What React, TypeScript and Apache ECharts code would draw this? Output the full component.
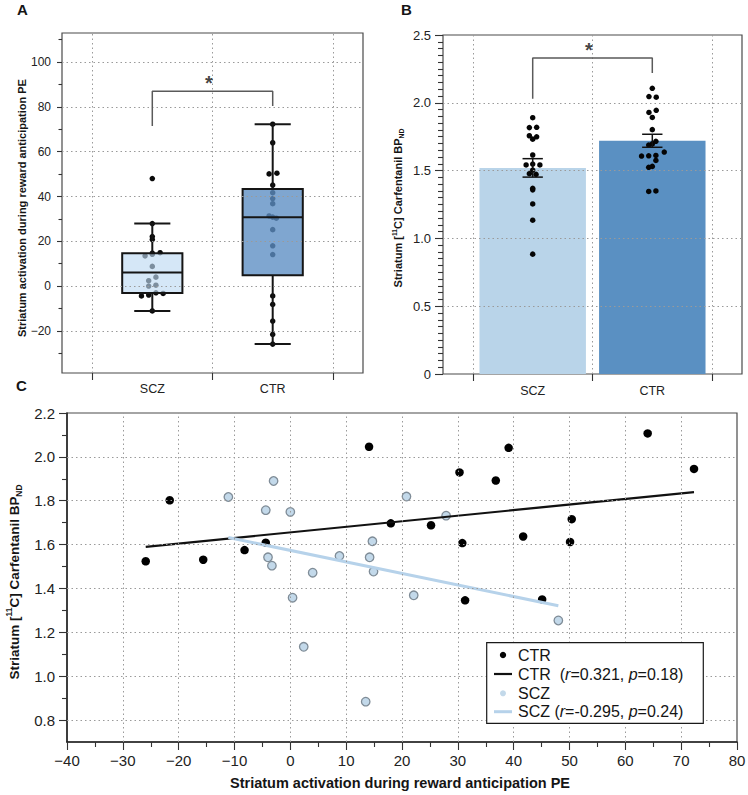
import React, { useEffect, useRef } from 'react';
import * as echarts from 'echarts';

const categories = ['SCZ', 'CTR'];

// Per-subject values (also used for A and B)
const sczActivation = [-11.1, -3.0, -4.4, 0.0, -4.0, -3.3, 4.0, 0.4, 2.4, 8.8, 14.7, 14.2, 14.9, 13.5, 20.8, 27.9, 22.1, 48.0];
const sczBP = [1.817, 1.89, 1.757, 1.749, 1.542, 1.504, 1.472, 1.358, 1.134, 1.548, 1.615, 1.542, 1.477, 0.884, 1.819, 1.732, 1.369, 1.254];
const ctrActivation = [-25.9, -21.6, -15.6, -8.2, -4.4, 14.1, 39.1, 30.3, 36.8, 64.0, 72.3, 18.0, 25.2, 50.4, 41.7, 30.8, 50.1, 31.3, 45.1];
const ctrBP = [1.524, 1.802, 1.531, 1.575, 1.609, 2.046, 2.041, 1.929, 1.892, 2.107, 1.945, 1.697, 1.688, 1.716, 1.637, 1.607, 1.612, 1.346, 1.35];

// Horizontal jitter of the dots in panels A and B (in group units)
const sczJitterA = [0, 0.03, -0.09, -0.03, -0.03, 0.09, 0.03, 0.03, -0.03, 0, 0, 0, 0.065, -0.06, 0, 0, 0, 0];
const ctrJitterA = [0, 0, 0, 0, 0, 0, 0, 0.03, 0, 0, 0, 0, 0, 0.035, 0, 0, -0.03, -0.03, 0];
const sczJitterB = [-0.028, 0, -0.028, 0.033, -0.055, 0, 0.028, 0, 0, 0, 0, 0.06, -0.028, 0, 0.033, 0, 0, 0];
const ctrJitterB = [-0.03, 0, 0, 0.03, -0.03, -0.028, 0.033, -0.028, 0, 0, 0.033, 0, -0.03, 0.03, 0.1, -0.09, 0.03, -0.03, 0.03];

// Panel A box statistics: [min, Q1, median, Q3, max]
const sczBox = [-11.1, -3.1, 6.1, 14.7, 27.9];
const ctrBox = [-25.9, 4.8, 30.7, 43.3, 72.3];

// Panel B means and SEM
const barMeans = [1.52, 1.72];
const barSEM = [0.068, 0.048];

// Significance brackets
const bracketA = [[1, 71.5], [1, 87], [2, 87], [2, 80.4]];
const starA = [1.47, 92.7];
const bracketB = [[1, 2.03], [1, 2.33], [2, 2.33], [2, 2.22]];
const starB = [1.47, 2.42];

// Panel C regression lines (end points)
const ctrFit = [[-25.9, 1.59], [72.3, 1.839]];
const sczFit = [[-11.1, 1.632], [48.0, 1.321]];

// Ticks
const groupTicks = [0.5, 1.5, 2.5];
const groupCenters = [1, 2];
const aYMajor = [-20, 0, 20, 40, 60, 80, 100];
const aYMinor = [-30, -10, 10, 30, 50, 70, 90, 110];
const bYMajor = [0, 0.5, 1.0, 1.5, 2.0, 2.5];
const bYMinor = [0.05, 0.1, 0.15, 0.2, 0.25, 0.3, 0.35, 0.4, 0.45, 0.55, 0.6, 0.65, 0.7, 0.75, 0.8, 0.85, 0.9, 0.95, 1.05, 1.1, 1.15, 1.2, 1.25, 1.3, 1.35, 1.4, 1.45, 1.55, 1.6, 1.65, 1.7, 1.75, 1.8, 1.85, 1.9, 1.95, 2.05, 2.1, 2.15, 2.2, 2.25, 2.3, 2.35, 2.4, 2.45];
const bYGrid = [0.5, 1.0, 1.5, 2.0];
const cYMajor = [0.8, 1.0, 1.2, 1.4, 1.6, 1.8, 2.0, 2.2];
const cYMinor = [0.9, 1.1, 1.3, 1.5, 1.7, 1.9, 2.1];
const cYGrid = [0.8, 1.0, 1.2, 1.4, 1.6, 1.8, 2.0];
const cXMajor = [-40, -30, -20, -10, 0, 10, 20, 30, 40, 50, 60, 70, 80];
const cXMinor = [-35, -25, -15, -5, 5, 15, 25, 35, 45, 55, 65, 75];
const cXGrid = [-30, -20, -10, 0, 10, 20, 30, 40, 50, 60, 70];

const FONT = '"Liberation Sans", Arial, Helvetica, sans-serif';
const minus = (v: number) => String(v).replace('-', '\u2212');

function axis(o: any) {
  return {
    type: 'value',
    gridIndex: o.gridIndex,
    min: o.min,
    max: o.max,
    position: o.position,
    axisLine: { show: !!o.line, onZero: false, lineStyle: { color: '#222', width: 1.5 } },
    axisTick: { show: true, inside: false, customValues: o.ticks, length: o.tickLen, lineStyle: { color: '#333', width: 1.1 } },
    axisLabel: o.labels
      ? {
          show: true,
          customValues: o.labels,
          formatter: o.fmt,
          fontSize: o.fontSize,
          fontFamily: FONT,
          color: '#222',
          margin: o.margin,
          showMinLabel: true,
          showMaxLabel: true,
          hideOverlap: false,
        }
      : { show: false },
    splitLine: { show: false },
    minorTick: { show: false },
    minorSplitLine: { show: false },
  };
}

function gridLines(xi: number, yi: number, xs: number[], ys: number[]) {
  return {
    type: 'scatter',
    xAxisIndex: xi,
    yAxisIndex: yi,
    data: [],
    z: 1,
    silent: true,
    markLine: {
      silent: true,
      symbol: ['none', 'none'],
      label: { show: false },
      emphasis: { disabled: true },
      lineStyle: { type: [1.5, 3], color: '#9a9a9a', width: 1 },
      data: [...xs.map((v) => ({ xAxis: v })), ...ys.map((v) => ({ yAxis: v }))],
    },
  };
}

function star(xi: number, yi: number, pos: number[]) {
  return {
    type: 'scatter',
    xAxisIndex: xi,
    yAxisIndex: yi,
    data: [pos],
    symbolSize: 1,
    itemStyle: { color: 'rgba(0,0,0,0)' },
    z: 5,
    silent: true,
    label: {
      show: true,
      position: 'inside',
      formatter: '*',
      fontSize: 20,
      fontWeight: 'bold',
      fontFamily: FONT,
      color: '#111',
      offset: [0, 4.5],
    },
  };
}

function bracket(xi: number, yi: number, pts: number[][]) {
  return {
    type: 'line',
    xAxisIndex: xi,
    yAxisIndex: yi,
    data: pts,
    symbol: 'none',
    z: 5,
    silent: true,
    lineStyle: { color: '#5a5a5a', width: 1.5 },
  };
}

function dots(xi: number, yi: number, data: number[][], size: number, style: any, z: number) {
  return {
    type: 'scatter',
    xAxisIndex: xi,
    yAxisIndex: yi,
    data,
    symbolSize: size,
    itemStyle: { opacity: 1, ...style },
    z,
  };
}

function buildOption(): any {
  const boxFill = ['rgba(190,218,242,0.64)', 'rgba(92,142,196,0.79)'];
  const barFill = ['#b9d4e9', '#5a90c2'];

  const series: any[] = [
    // ---------- Panel A ----------
    gridLines(0, 0, groupTicks, aYMajor),
    dots(0, 0, sczActivation.map((v, i) => [1 + sczJitterA[i], v]), 5.5, { color: '#0a0a0a' }, 2),
    dots(0, 0, ctrActivation.map((v, i) => [2 + ctrJitterA[i], v]), 5.5, { color: '#0a0a0a' }, 2),
    {
      type: 'custom',
      xAxisIndex: 0,
      yAxisIndex: 0,
      z: 3,
      clip: false,
      data: [[1, ...sczBox], [2, ...ctrBox]],
      renderItem: (params: any, api: any) => {
        const x = api.value(0);
        const mn = api.value(1), q1 = api.value(2), md = api.value(3), q3 = api.value(4), mx = api.value(5);
        const half = 0.25, cap = 0.15;
        const c = (xx: number, yy: number) => api.coord([xx, yy]);
        const stroke = { stroke: '#151515', lineWidth: 2 };
        const tl = c(x - half, q3), br = c(x + half, q1);
        const pMax = c(x, mx), pQ3 = c(x, q3), pQ1 = c(x, q1), pMin = c(x, mn);
        const capL = c(x - cap, 0)[0], capR = c(x + cap, 0)[0];
        const medL = c(x - half, md), medR = c(x + half, md);
        return {
          type: 'group',
          children: [
            { type: 'line', shape: { x1: pMax[0], y1: pMax[1], x2: pQ3[0], y2: pQ3[1] }, style: stroke },
            { type: 'line', shape: { x1: pMin[0], y1: pMin[1], x2: pQ1[0], y2: pQ1[1] }, style: stroke },
            { type: 'line', shape: { x1: capL, y1: pMax[1], x2: capR, y2: pMax[1] }, style: stroke },
            { type: 'line', shape: { x1: capL, y1: pMin[1], x2: capR, y2: pMin[1] }, style: stroke },
            {
              type: 'rect',
              shape: { x: tl[0], y: tl[1], width: br[0] - tl[0], height: br[1] - tl[1] },
              style: { fill: boxFill[params.dataIndex], stroke: '#151515', lineWidth: 2 },
            },
            { type: 'line', shape: { x1: medL[0], y1: medL[1], x2: medR[0], y2: medR[1] }, style: stroke },
          ],
        };
      },
    },
    bracket(0, 0, bracketA),
    star(0, 0, starA),

    // ---------- Panel B ----------
    gridLines(1, 2, groupTicks, bYGrid),
    {
      type: 'custom',
      xAxisIndex: 1,
      yAxisIndex: 2,
      z: 2,
      clip: false,
      data: barMeans.map((m, i) => [i + 1, m]),
      renderItem: (params: any, api: any) => {
        const x = api.value(0), v = api.value(1);
        const tl = api.coord([x - 0.445, v]);
        const br = api.coord([x + 0.445, 0]);
        return {
          type: 'rect',
          shape: { x: tl[0], y: tl[1], width: br[0] - tl[0], height: br[1] - tl[1] },
          style: { fill: barFill[params.dataIndex] },
        };
      },
    },
    dots(1, 2, sczBP.map((v, i) => [1 + sczJitterB[i], v]), 5.5, { color: '#050505' }, 3),
    dots(1, 2, ctrBP.map((v, i) => [2 + ctrJitterB[i], v]), 5.5, { color: '#050505' }, 3),
    {
      type: 'custom',
      xAxisIndex: 1,
      yAxisIndex: 2,
      z: 4,
      clip: false,
      data: barMeans.map((m, i) => [i + 1, m, barSEM[i]]),
      renderItem: (params: any, api: any) => {
        const x = api.value(0), m = api.value(1), s = api.value(2);
        const top = api.coord([x, m + s]), bot = api.coord([x, m - s]);
        const l = api.coord([x - 0.085, m])[0], r = api.coord([x + 0.085, m])[0];
        const st = { stroke: '#111', lineWidth: 1.5 };
        return {
          type: 'group',
          children: [
            { type: 'line', shape: { x1: top[0], y1: top[1], x2: bot[0], y2: bot[1] }, style: st },
            { type: 'line', shape: { x1: l, y1: top[1], x2: r, y2: top[1] }, style: st },
            { type: 'line', shape: { x1: l, y1: bot[1], x2: r, y2: bot[1] }, style: st },
          ],
        };
      },
    },
    bracket(1, 2, bracketB),
    star(1, 2, starB),

    // ---------- Panel C ----------
    gridLines(2, 4, cXGrid, cYGrid),
    dots(2, 4, ctrActivation.map((v, i) => [v, ctrBP[i]]), 8.5, { color: '#000000' }, 3),
    dots(2, 4, sczActivation.map((v, i) => [v, sczBP[i]]), 8.5, { color: '#c3d9ea', borderColor: '#7f8c97', borderWidth: 1.3 }, 3),
    {
      type: 'line',
      xAxisIndex: 2,
      yAxisIndex: 4,
      data: ctrFit,
      symbol: 'none',
      z: 4,
      lineStyle: { color: '#111', width: 2.2 },
    },
    {
      type: 'line',
      xAxisIndex: 2,
      yAxisIndex: 4,
      data: sczFit,
      symbol: 'none',
      z: 4,
      lineStyle: { color: '#b6d2ea', width: 3 },
    },
  ];

  const titleStyle = (fs: number) => ({ fontSize: fs, fontWeight: 'bold', fontFamily: FONT, fill: '#151515' });
  const bpRich = (fs: number) => ({
    b: { fontSize: fs, fontWeight: 'bold', fontFamily: FONT, fill: '#151515', lineHeight: fs * 1.3 },
    sup: { fontSize: fs * 0.62, fontWeight: 'bold', fontFamily: FONT, fill: '#151515', verticalAlign: 'top' },
    sub: { fontSize: fs * 0.62, fontWeight: 'bold', fontFamily: FONT, fill: '#151515', verticalAlign: 'bottom' },
  });
  const bpText = '{b|Striatum [}{sup|11}{b|C] Carfentanil BP}{sub|ND}';
  const legRich = {
    n: { fontSize: 16, fontFamily: FONT, fill: '#151515' },
    i: { fontSize: 16, fontFamily: FONT, fill: '#151515', fontStyle: 'italic' },
  };

  const graphic: any[] = [
    { type: 'text', x: 22.5, y: 9, z: 100, style: { text: 'A', ...titleStyle(15), align: 'center', verticalAlign: 'middle' } },
    { type: 'text', x: 406.5, y: 9.5, z: 100, style: { text: 'B', ...titleStyle(15), align: 'center', verticalAlign: 'middle' } },
    { type: 'text', x: 21.5, y: 385, z: 100, style: { text: 'C', ...titleStyle(15), align: 'center', verticalAlign: 'middle' } },
    {
      type: 'text', x: 22, y: 208, rotation: Math.PI / 2, z: 100,
      style: { text: 'Striatum activation during reward anticipation PE', ...titleStyle(11), align: 'center', verticalAlign: 'middle' },
    },
    {
      type: 'text', x: 398, y: 208, rotation: Math.PI / 2, z: 100,
      style: { text: bpText, rich: bpRich(11), align: 'center', verticalAlign: 'middle' },
    },
    {
      type: 'text', x: 14, y: 582, rotation: Math.PI / 2, z: 100,
      style: { text: bpText, rich: bpRich(13.5), align: 'center', verticalAlign: 'middle' },
    },
    {
      type: 'text', x: 400, y: 783, z: 100,
      style: { text: 'Striatum activation during reward anticipation PE', ...titleStyle(14.5), align: 'center', verticalAlign: 'middle' },
    },
    // legend
    {
      type: 'group', z: 100,
      children: [
        { type: 'rect', z: 100, shape: { x: 486.7, y: 642.7, width: 216.6, height: 80.6 }, style: { fill: '#fff', stroke: '#1a1a1a', lineWidth: 1.2 } },
        { type: 'circle', z: 101, shape: { cx: 503, cy: 655, r: 3.2 }, style: { fill: '#050505' } },
        { type: 'text', z: 101, x: 518, y: 655, style: { text: 'CTR', ...legRich.n, align: 'left', verticalAlign: 'middle' } },
        { type: 'line', z: 101, shape: { x1: 494, y1: 674, x2: 512, y2: 674 }, style: { stroke: '#111', lineWidth: 2.2 } },
        { type: 'text', z: 101, x: 518, y: 674, style: { text: '{n|CTR  (}{i|r}{n|=0.321, }{i|p}{n|=0.18)}', rich: legRich, align: 'left', verticalAlign: 'middle' } },
        { type: 'circle', z: 101, shape: { cx: 503, cy: 693.3, r: 3 }, style: { fill: '#c3d9ea' } },
        { type: 'text', z: 101, x: 518, y: 693.3, style: { text: 'SCZ', ...legRich.n, align: 'left', verticalAlign: 'middle' } },
        { type: 'line', z: 101, shape: { x1: 494, y1: 711.7, x2: 512, y2: 711.7 }, style: { stroke: '#b6d2ea', lineWidth: 3 } },
        { type: 'text', z: 101, x: 518, y: 711.7, style: { text: '{n|SCZ (}{i|r}{n|=-0.295, }{i|p}{n|=0.24)}', rich: legRich, align: 'left', verticalAlign: 'middle' } },
      ],
    },
  ];

  const gridBase = { show: true, borderColor: '#4a4a4a', borderWidth: 1.2, backgroundColor: 'rgba(0,0,0,0)', outerBoundsMode: 'none', containLabel: false };
  const groupFmt = (v: number) => categories[Math.round(v) - 1] || '';

  return {
    animation: false,
    backgroundColor: '#ffffff',
    textStyle: { fontFamily: FONT },
    grid: [
      { ...gridBase, left: 62, top: 33, width: 301, height: 340 },
      { ...gridBase, left: 443, top: 35, width: 299, height: 339 },
      { ...gridBase, left: 67, top: 413, width: 670, height: 329 },
    ],
    xAxis: [
      axis({ gridIndex: 0, min: 0.25, max: 2.75, position: 'bottom', ticks: groupTicks, tickLen: 7, labels: groupCenters, fmt: groupFmt, fontSize: 12.5, margin: 9 }),
      axis({ gridIndex: 1, min: 0.25, max: 2.75, position: 'bottom', ticks: groupTicks, tickLen: 7, labels: groupCenters, fmt: groupFmt, fontSize: 12.5, margin: 10 }),
      axis({ gridIndex: 2, min: -40, max: 80, position: 'bottom', ticks: cXMajor, tickLen: 8, labels: cXMajor, fmt: minus, fontSize: 15, margin: 11, line: true }),
      axis({ gridIndex: 2, min: -40, max: 80, position: 'bottom', ticks: cXMinor, tickLen: 5 }),
    ],
    yAxis: [
      axis({ gridIndex: 0, min: -38.8, max: 113, position: 'left', ticks: aYMajor, tickLen: 5, labels: aYMajor, fmt: minus, fontSize: 12, margin: 11 }),
      axis({ gridIndex: 0, min: -38.8, max: 113, position: 'left', ticks: aYMinor, tickLen: 3.5 }),
      axis({ gridIndex: 1, min: 0, max: 2.5, position: 'left', ticks: bYMajor, tickLen: 8, labels: bYMajor, fmt: (v: number) => (v === 0 ? '0' : v.toFixed(1)), fontSize: 13, margin: 12 }),
      axis({ gridIndex: 1, min: 0, max: 2.5, position: 'left', ticks: bYMinor, tickLen: 5 }),
      axis({ gridIndex: 2, min: 0.7, max: 2.2, position: 'left', ticks: cYMajor, tickLen: 8, labels: cYMajor, fmt: (v: number) => v.toFixed(1), fontSize: 15, margin: 12, line: true }),
      axis({ gridIndex: 2, min: 0.7, max: 2.2, position: 'left', ticks: cYMinor, tickLen: 5 }),
    ],
    series,
    graphic,
  };
}

export default function App() {
  const ref = useRef<HTMLDivElement>(null);
  useEffect(() => {
    if (!ref.current) return;
    const chart = echarts.init(ref.current, null, { renderer: 'svg' });
    chart.setOption(buildOption());
    return () => chart.dispose();
  }, []);
  return (
    <div
      ref={ref}
      style={{ position: 'absolute', left: 0, top: 0, width: 748, height: 795, background: '#fff' }}
    />
  );
}
